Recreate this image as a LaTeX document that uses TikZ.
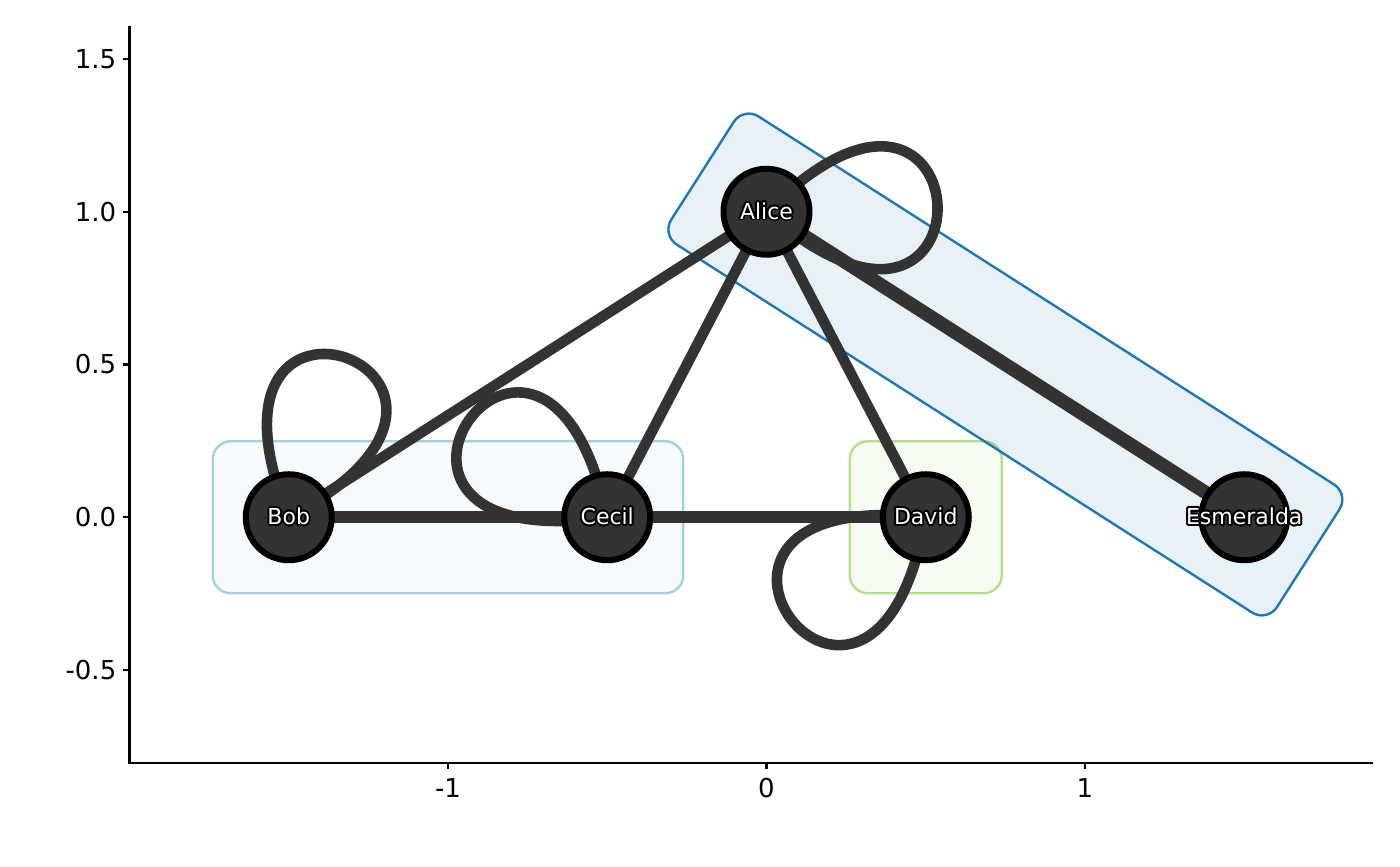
\documentclass[tikz,border=0pt]{standalone}
\usepackage{fontspec}
\setmainfont{DejaVu Sans}
\usepackage{contour}
\usetikzlibrary{fit}
\definecolor{vertexgray}{HTML}{333333}
\definecolor{grplight}{HTML}{A6CEE3}
\definecolor{grpdark}{HTML}{1F78B4}
\definecolor{grpgreen}{HTML}{B2DF8A}
\contourlength{0.9pt}
\newcommand{\vname}[1]{\makebox[0pt]{\contour{black}{#1}}}
\pgfdeclarelayer{groups}
\pgfdeclarelayer{edges}
\pgfsetlayers{groups,edges,main}
\begin{document}
\begin{tikzpicture}[
        x=159.25pt, y=152.75pt,
        every node/.style={font=\fontsize{13}{15}\selectfont},
        vertex/.style={circle, draw=black, line width=3pt,
            fill=vertexgray, minimum size=43pt, inner sep=0pt,
            text=white, font=\fontsize{11}{13}\selectfont},
        edge/.style={draw=vertexgray, line width=5.3pt},
        heavy/.style={edge, line width=6.8pt},
        flat/.style={edge, line width=5.8pt},
        group/.style={rectangle, rounded corners=9pt,
            line width=1.2pt, inner sep=38pt},
        axis/.style={line width=1.2pt},
        ticklabel/.style={inner sep=0pt}
      ]
      \useasboundingbox (-2.4066,-1.1416) rectangle (1.9890,1.6931);
      \node[vertex] (alice) at (0, 1)   {\vname{Alice}};
      \node[vertex] (bob)   at (-1.5, 0) {\vname{Bob}};
      \node[vertex] (cecil) at (-0.5, 0) {\vname{Cecil}};
      \node[vertex] (david) at (0.5, 0)  {\vname{David}};
      \node[vertex] (esme)  at (1.5, 0)  {\vname{Esmeralda}};
      \begin{pgfonlayer}{groups}
        \node[group, draw=grplight, fill=grplight, fill opacity=0.1,
          fit=(bob.center)(cecil.center)] (grpbc) {};
        \node[group, draw=grpgreen, fill=grpgreen, fill opacity=0.1,
          fit=(david.center)] (grpd) {};
        \node[group, draw=grpdark, fill=grpdark, fill opacity=0.1,
          rotate fit=-32.6, fit=(alice.center)(esme.center)] (grpae) {};
      \end{pgfonlayer}
      \begin{pgfonlayer}{edges}
        \draw[edge]  (bob.center)   -- (alice.center);
        \draw[edge]  (cecil.center) -- (alice.center);
        \draw[edge]  (alice.center) -- (david.center);
        \draw[heavy] (alice.center) -- (esme.center);
        \draw[flat]  (bob.center)   -- (cecil.center);
        \draw[flat]  (cecil.center) -- (david.center);
        \draw[edge] (alice.center) .. controls +(45:156pt) and +(-41:156pt) .. (alice.center);
        \draw[edge] (bob.center)   .. controls +(112:152pt) and +(28:152pt) .. (bob.center);
        \draw[edge] (cecil.center) .. controls +(188:154pt) and +(102:154pt) .. (cecil.center);
        \draw[edge] (david.center) .. controls +(174:154pt) and +(260:154pt) .. (david.center);
      \end{pgfonlayer}
      \draw[axis] (-2, 1.608) -- (-2, -0.8044) -- (1.904, -0.8044);
      \foreach \v/\t [count=\i] in {-0.5/-0.5, 0/0.0, 0.5/0.5, 1/1.0, 1.5/1.5}
        \draw[axis] (-2, \v) -- ++(-3pt, 0)
          node[ticklabel, anchor=east, xshift=-3pt] (ylab\i) {\t};
      \foreach \v [count=\i] in {-1, 0, 1}
        \draw[axis] (\v, -0.8044) -- ++(0, -3pt)
          node[ticklabel, anchor=north, yshift=-4pt] (xlab\i) {\v};
    \end{tikzpicture}
\end{document}
